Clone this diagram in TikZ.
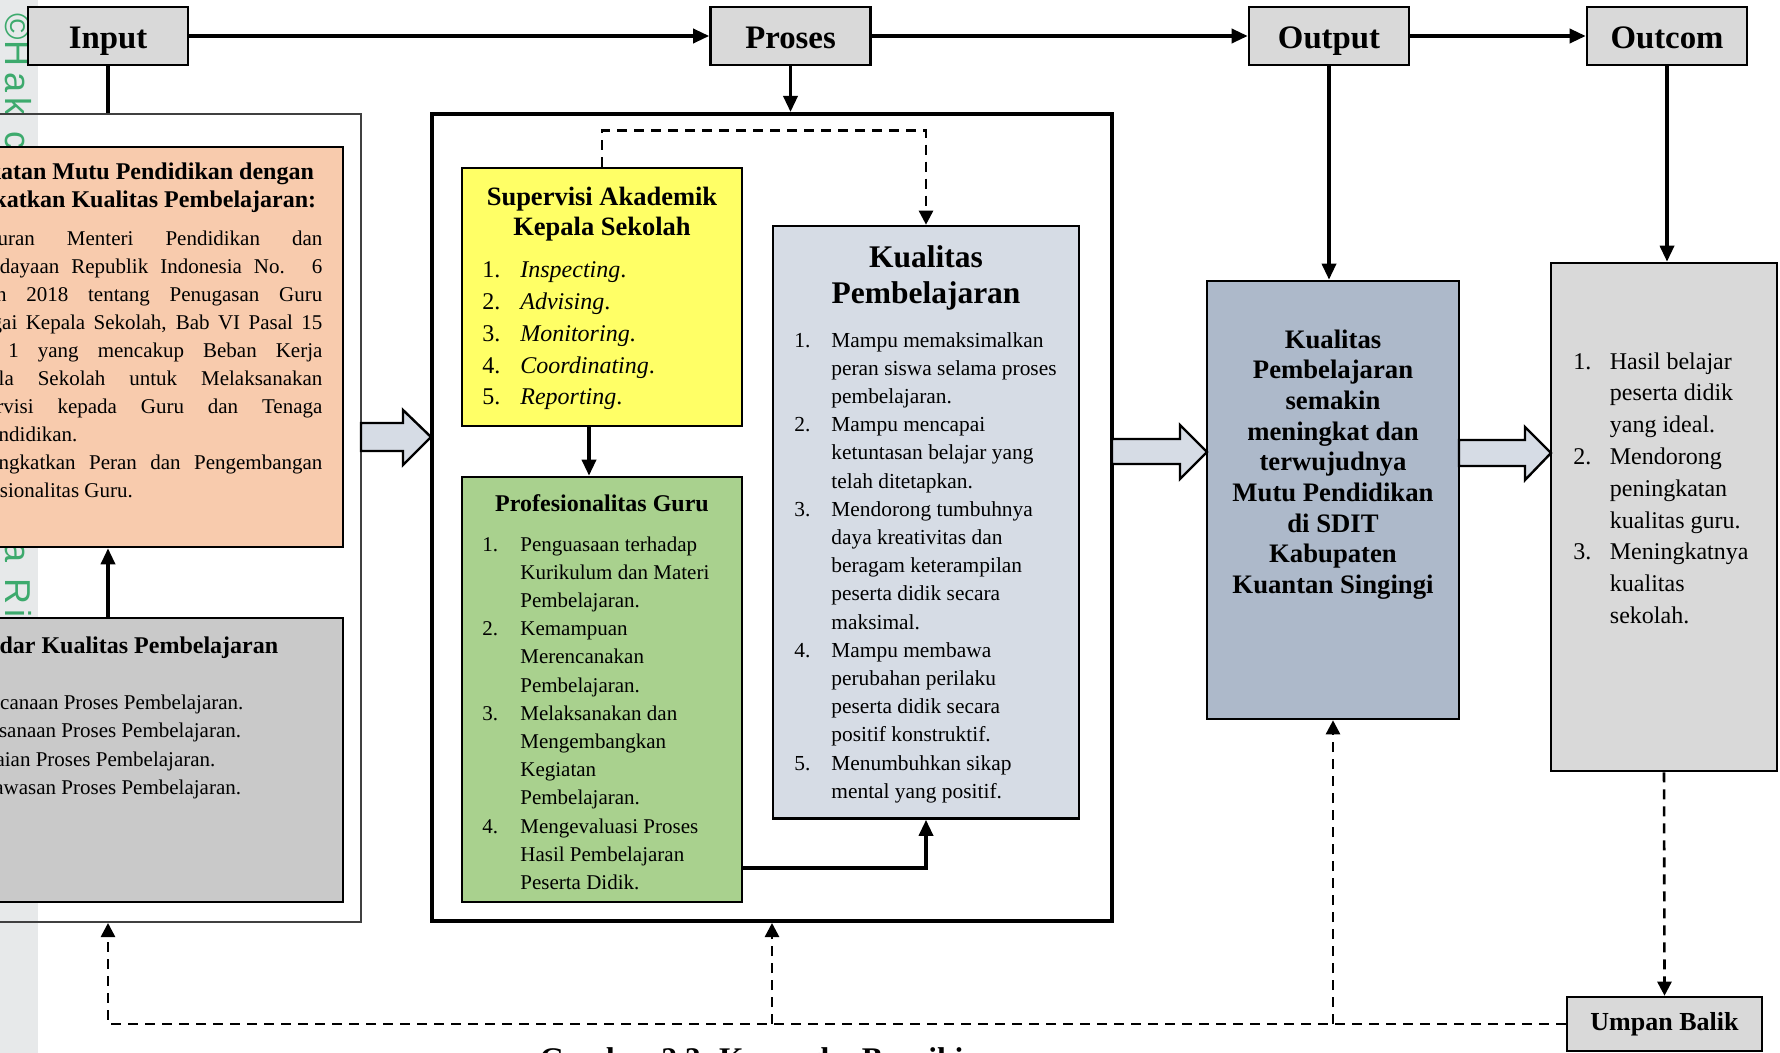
\documentclass[tikz,border=0pt]{standalone}
\usepackage{fontspec}
\setmainfont{Liberation Serif}
\newfontfamily\wmfont{Liberation Sans}[LetterSpace=15]
\usetikzlibrary{arrows.meta}

\definecolor{abu}{HTML}{D9D9D9}
\definecolor{abutua}{HTML}{C9C9C9}
\definecolor{peach}{HTML}{F8CBAD}
\definecolor{kuning}{HTML}{FFFF66}
\definecolor{hijau}{HTML}{A9D18E}
\definecolor{birumuda}{HTML}{D6DCE5}
\definecolor{birutua}{HTML}{ADB9CA}
\definecolor{strip}{HTML}{E7E9EA}
\definecolor{wmhijau}{HTML}{3DAA6D}

\newcommand{\rata}[1]{\makebox[184pt][s]{#1}}

\tikzset{
  judul/.style={draw, line width=1.3pt, fill=abu, minimum width=80pt, minimum height=29pt, inner sep=0pt, text height=12.5pt, text depth=0pt, font=\fontsize{16.4}{20}\selectfont\bfseries},
  kotak/.style={draw, line width=1.3pt, inner sep=0pt},
  teks/.style={inner sep=0pt, anchor=base west},
  panah/.style={line width=1.7pt, -{Triangle[length=8pt,width=7pt]}},
  putus/.style={line width=1.3pt, dash pattern=on 5pt off 3.5pt, -{Triangle[length=7pt,width=7pt]}},
  blok/.style={draw, line width=1.2pt, fill=birumuda, line join=miter},
}

\begin{document}
\begin{tikzpicture}[x=0.5pt, y=-0.5pt]
    \useasboundingbox (0,0) rectangle (1780,1053);
    \clip (0,0) rectangle (1780,1053);

    % pita kiri
    \fill[strip] (0,0) rectangle (38,1053);
    \node[inner sep=0pt, anchor=base west, rotate=-90, text=wmhijau, font=\wmfont\fontsize{18}{20}\selectfont] (hakcipta) at (5,13) {©\kern0.5pt Hak cipta milik UIN Suska Riau};

    % baris atas
    \node[judul] (input) at (108,36) {Input};
    \node[judul] (proses) at (790.5,36) {Proses};
    \node[judul] (output) at (1329,36) {Output};
    \node[judul] (outcom) at (1667,36) {Outcom};

    % input
    \node[draw=black!75, line width=1pt, minimum width=245.5pt, minimum height=404pt, inner sep=0pt] (kiri) at (115.5,518) {};
    \node[kotak, fill=peach, minimum width=227.5pt, minimum height=200pt] (mutu) at (115.5,347) {};
    \node[kotak, fill=abutua, minimum width=227.5pt, minimum height=142pt] (standar) at (115.5,760) {};

    \node[teks, anchor=base, font=\fontsize{12}{14}\selectfont\bfseries] (judulmutu) at (115.5,180) {\begin{tabular}[t]{@{}c@{}}Peningkatan Mutu Pendidikan dengan\\Meningkatkan Kualitas Pembelajaran:\end{tabular}};
    \node[teks, font=\fontsize{10.5}{14}\selectfont] (isimutu) at (-80,245.5) {\begin{tabular}[t]{@{}p{17pt}@{}l@{}}
        1. & \rata{Peraturan Menteri Pendidikan dan}\\
           & \rata{Kebudayaan Republik Indonesia No. 6}\\
           & \rata{Tahun 2018 tentang Penugasan Guru}\\
           & \rata{sebagai Kepala Sekolah, Bab VI Pasal 15}\\
           & \rata{ayat 1 yang mencakup Beban Kerja}\\
           & \rata{Kepala Sekolah untuk Melaksanakan}\\
           & \rata{Supervisi kepada Guru dan Tenaga}\\
           & Kependidikan.\\
        2. & \rata{Meningkatkan Peran dan Pengembangan}\\
           & Profesionalitas Guru.
    \end{tabular}};

    \node[teks, anchor=base, font=\fontsize{12}{14}\selectfont\bfseries] (judulstandar) at (115.5,653) {Standar Kualitas Pembelajaran};
    \node[teks, font=\fontsize{10.5}{14.3}\selectfont] (isistandar) at (-82,709) {\begin{tabular}[t]{@{}p{17pt}@{}l@{}}
        1. & Perencanaan Proses Pembelajaran.\\
        2. & Pelaksanaan Proses Pembelajaran.\\
        3. & Penilaian Proses Pembelajaran.\\
        4. & Pengawasan Proses Pembelajaran.
    \end{tabular}};

    % proses
    \node[draw, line width=2pt, minimum width=340pt, minimum height=403.5pt, inner sep=0pt] (tengah) at (772,517.5) {};
    \node[kotak, fill=kuning, minimum width=140pt, minimum height=129pt] (supervisi) at (602,297) {};
    \node[kotak, fill=hijau, minimum width=140pt, minimum height=212.5pt] (guru) at (602,689.5) {};
    \node[kotak, fill=birumuda, minimum width=153pt, minimum height=296.25pt] (kualitas) at (926,522.25) {};

    \node[teks, anchor=base, font=\fontsize{13.25}{15}\selectfont\bfseries] (judulsupervisi) at (602,206) {\begin{tabular}[t]{@{}c@{}}Supervisi Akademik\\Kepala Sekolah\end{tabular}};
    \node[teks, font=\fontsize{12}{15.85}\selectfont] (isisupervisi) at (482,278) {\begin{tabular}[t]{@{}p{19pt}@{}l@{}}
        1. & \textit{Inspecting}.\\
        2. & \textit{Advising}.\\
        3. & \textit{Monitoring}.\\
        4. & \textit{Coordinating}.\\
        5. & \textit{Reporting}.
    \end{tabular}};

    \node[teks, anchor=base, font=\fontsize{12}{14}\selectfont\bfseries] (judulguru) at (602,511.5) {Profesionalitas Guru};
    \node[teks, font=\fontsize{10.5}{14.1}\selectfont] (isiguru) at (482,551) {\begin{tabular}[t]{@{}p{19pt}@{}l@{}}
        1. & Penguasaan terhadap\\
           & Kurikulum dan Materi\\
           & Pembelajaran.\\
        2. & Kemampuan\\
           & Merencanakan\\
           & Pembelajaran.\\
        3. & Melaksanakan dan\\
           & Mengembangkan\\
           & Kegiatan\\
           & Pembelajaran.\\
        4. & Mengevaluasi Proses\\
           & Hasil Pembelajaran\\
           & Peserta Didik.
    \end{tabular}};

    \node[teks, anchor=base, font=\fontsize{15.75}{18}\selectfont\bfseries] (judulkualitas) at (926,267.5) {\begin{tabular}[t]{@{}c@{}}Kualitas\\Pembelajaran\end{tabular}};
    \node[teks, font=\fontsize{10.7}{14.1}\selectfont] (isikualitas) at (794,347) {\begin{tabular}[t]{@{}p{18.5pt}@{}l@{}}
        1. & Mampu memaksimalkan\\
           & peran siswa selama proses\\
           & pembelajaran.\\
        2. & Mampu mencapai\\
           & ketuntasan belajar yang\\
           & telah ditetapkan.\\
        3. & Mendorong tumbuhnya\\
           & daya kreativitas dan\\
           & beragam keterampilan\\
           & peserta didik secara\\
           & maksimal.\\
        4. & Mampu membawa\\
           & perubahan perilaku\\
           & peserta didik secara\\
           & positif konstruktif.\\
        5. & Menumbuhkan sikap\\
           & mental yang positif.
    \end{tabular}};

    % output dan outcome
    \node[kotak, fill=birutua, minimum width=126pt, minimum height=219pt] (hasil) at (1333,500) {};
    \node[kotak, fill=abu, minimum width=113pt, minimum height=254pt] (dampak) at (1664,517) {};
    \node[kotak, fill=abu, minimum width=97.5pt, minimum height=27pt, font=\fontsize{13}{15}\selectfont\bfseries] (umpan) at (1664.5,1024) {Umpan Balik};

    \node[teks, anchor=base, font=\fontsize{13.35}{15.35}\selectfont\bfseries] (isihasil) at (1333,348) {\begin{tabular}[t]{@{}c@{}}
        Kualitas\\ Pembelajaran\\ semakin\\ meningkat dan\\ terwujudnya\\ Mutu Pendidikan\\ di SDIT\\ Kabupaten\\ Kuantan Singingi
    \end{tabular}};
    \node[teks, font=\fontsize{12}{15.9}\selectfont] (isidampak) at (1573,369) {\begin{tabular}[t]{@{}p{18.25pt}@{}l@{}}
        1. & Hasil belajar\\
           & peserta didik\\
           & yang ideal.\\
        2. & Mendorong\\
           & peningkatan\\
           & kualitas guru.\\
        3. & Meningkatnya\\
           & kualitas\\
           & sekolah.
    \end{tabular}};

    % panah blok
    \draw[blok] (361,423) -- (403,423) -- (403,410) -- (431,437) -- (403,465) -- (403,451) -- (361,451) -- cycle;
    \draw[blok] (1112,439) -- (1180,439) -- (1180,425) -- (1207,452) -- (1180,479) -- (1180,464) -- (1112,464) -- cycle;
    \draw[blok] (1459,440) -- (1525,440) -- (1525,427) -- (1551,453) -- (1525,480) -- (1525,466) -- (1459,466) -- cycle;

    % penghubung
    \draw[panah] (input) -- (proses);
    \draw[panah] (proses) -- (output);
    \draw[panah] (output) -- (outcom);
    \draw[line width=1.7pt] (input.south) -- (input.south |- kiri.north);
    \draw[panah] (proses.south) -- (proses.south |- tengah.north);
    \draw[panah] (output.south) -- (output.south |- hasil.north);
    \draw[panah] (outcom.south) -- (outcom.south |- dampak.north);
    \draw[panah] (standar.north -| input.south) -- (mutu.south -| input.south);
    \draw[panah] ([xshift=-6.5pt]supervisi.south) -- ([xshift=-6.5pt]guru.north);
    \draw[putus] (supervisi.north) -- ++(0,-36) -| (kualitas.north);
    \coordinate (gk) at (742,868);
    \draw[panah] (gk) -| (kualitas.south);

    % umpan balik
    \draw[putus] (umpan.west) -| (kiri.south -| input.south);
    \draw[putus] (umpan.west -| tengah.south) -- (tengah.south);
    \draw[putus] (umpan.west -| hasil.south) -- (hasil.south);
    \draw[putus] (dampak.south) -- (umpan.north);

    \node[teks, anchor=base, font=\fontsize{15.75}{18}\selectfont\bfseries] (caption) at (758.5,1069) {Gambar 2.3. Kerangka Berpikir};
\end{tikzpicture}
\end{document}
